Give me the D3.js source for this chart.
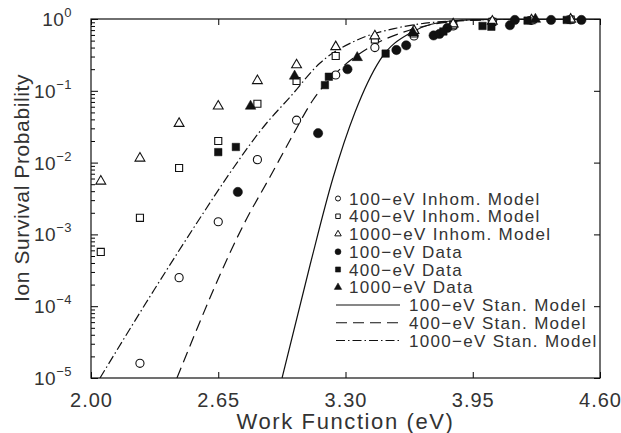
<!DOCTYPE html>
<html>
<head>
<meta charset="utf-8">
<script src="https://cdn.jsdelivr.net/npm/d3@7"></script>
<style>
  body { margin: 0; background: #fff; }
  text { font-family: "Liberation Sans", Arial, sans-serif; fill: #333; }
</style>
</head>
<body>
<svg id="chart"></svg>
<script>
var width = 621;
var height = 433;
var margins = { left: 91, right: 21, top: 19, bottom: 55 };

// inhomogeneous model points (0.2 eV grid)
var inhomX = [2.05, 2.25, 2.45, 2.65, 2.85, 3.05, 3.25, 3.45, 3.65, 3.85, 4.05, 4.25, 4.45];
var inhom100 = [null, 1.6e-5, 2.5e-4, 1.5e-3, 0.011, 0.039, 0.166, 0.40, 0.58, 0.80, 0.92, 0.96, 0.98];
var inhom400 = [5.7e-4, 0.0017, 0.0084, 0.020, 0.066, 0.137, 0.305, 0.52, 0.63, 0.82, 0.91, 0.96, 0.98];
var inhom1000 = [0.0055, 0.0115, 0.035, 0.061, 0.138, 0.229, 0.41, 0.58, 0.69, 0.85, 0.93, 0.97, 0.99];

// measured data
var data100X = [2.75, 3.16, 3.31, 3.56, 3.61, 3.75, 3.78, 3.82, 4.14, 4.165, 4.35, 4.505];
var data100Y = [0.0039, 0.0257, 0.20, 0.37, 0.43, 0.59, 0.62, 0.75, 0.82, 0.97, 0.97, 0.97];
var data400X = [2.65, 2.74, 3.195, 3.215, 3.505, 3.80, 4.00, 4.045, 4.23, 4.43];
var data400Y = [0.014, 0.0165, 0.12, 0.157, 0.33, 0.67, 0.80, 0.78, 0.95, 0.97];
var data1000X = [2.815, 3.04, 3.36, 3.645, 4.27];
var data1000Y = [0.061, 0.16, 0.29, 0.64, 0.99];

// standard model curves
var stan100X = [2.976, 3.119, 3.236, 3.349, 3.476, 3.640, 3.834, 4.038, 4.6];
var stan100Y = [1e-5, 3.75e-4, 6.1e-3, 0.0507, 0.268, 0.659, 0.938, 0.99, 1.0];
var stan400X = [2.439, 2.797, 2.914, 3.017, 3.134, 3.257, 3.425, 3.630, 3.885, 4.191, 4.6];
var stan400Y = [1e-5, 1.69e-3, 6.3e-3, 0.0206, 0.0744, 0.183, 0.407, 0.703, 0.938, 0.99, 1.0];
var stan1000X = [2.046, 2.322, 2.557, 2.710, 2.889, 3.017, 3.170, 3.359, 3.563, 3.834, 4.09, 4.6];
var stan1000Y = [1e-5, 1.68e-4, 1.69e-3, 7.2e-3, 0.0334, 0.082, 0.244, 0.51, 0.75, 0.938, 0.99, 1.0];

var xTicks = [2.00, 2.65, 3.30, 3.95, 4.60];
var yTicks = [1e-5, 1e-4, 1e-3, 1e-2, 1e-1, 1];
var yTickExp = ["\u22125", "\u22124", "\u22123", "\u22122", "\u22121", "0"];

var legendLabels = [
  "100\u2212eV Inhom. Model", "400\u2212eV Inhom. Model", "1000\u2212eV Inhom. Model",
  "100\u2212eV Data", "400\u2212eV Data", "1000\u2212eV Data",
  "100\u2212eV Stan. Model", "400\u2212eV Stan. Model", "1000\u2212eV Stan. Model"
];

var xscale = d3.scaleLinear()
                .domain([2.0, 4.6])
                .range([margins.left, width - margins.right]);
var yscale = d3.scaleLog()
                .domain([1e-5, 1])
                .range([height - margins.bottom, margins.top]);

var svg = d3.select("#chart")
            .attr("width", width)
            .attr("height", height);

var plotW = width - margins.left - margins.right;
var plotH = height - margins.top - margins.bottom;

svg.append("defs").append("clipPath").attr("id", "clip")
   .append("rect")
   .attr("x", margins.left).attr("y", margins.top)
   .attr("width", plotW).attr("height", plotH);

// minor log ticks on the left
var minorTicks = [];
for (var e = -5; e < 0; e++) {
  for (var m = 2; m <= 9; m++) minorTicks.push(m * Math.pow(10, e));
}
svg.append("g")
   .attr("transform", "translate(" + margins.left + ",0)")
   .call(d3.axisLeft(yscale).tickValues(minorTicks).tickSize(-4).tickFormat(""))
   .call(function(g){ g.select(".domain").remove(); });
svg.append("g")
   .attr("transform", "translate(" + margins.left + ",0)")
   .call(d3.axisLeft(yscale).tickValues(yTicks).tickSize(-7).tickFormat(""))
   .call(function(g){ g.select(".domain").remove(); });
svg.append("g")
   .attr("transform", "translate(" + (width - margins.right) + ",0)")
   .call(d3.axisRight(yscale).tickValues(yTicks).tickSize(-6).tickFormat(""))
   .call(function(g){ g.select(".domain").remove(); });

// x ticks, bottom and top, pointing inward
svg.append("g")
   .attr("transform", "translate(0," + (height - margins.bottom) + ")")
   .call(d3.axisBottom(xscale).tickValues(xTicks).tickSize(-6).tickPadding(15).tickFormat(d3.format(".2f")))
   .call(function(g){
     g.select(".domain").remove();
     g.selectAll("text").attr("font-size", 20).attr("font-family", null).attr("letter-spacing", 1).attr("fill", "#333");
   });
svg.append("g")
   .attr("transform", "translate(0," + margins.top + ")")
   .call(d3.axisTop(xscale).tickValues(xTicks).tickSize(-6).tickFormat(""))
   .call(function(g){ g.select(".domain").remove(); });

// y tick labels 10^n
var ylab = svg.append("g").selectAll("text").data(yTicks).enter().append("text")
   .attr("x", margins.left - 19)
   .attr("y", function(d){ return yscale(d) + 7; })
   .attr("text-anchor", "end")
   .attr("font-size", 19)
   .attr("letter-spacing", 0.5);
ylab.append("tspan").text("10");
ylab.append("tspan").attr("dy", -9).attr("font-size", 13).text(function(d, i){ return yTickExp[i]; });

// frame
svg.append("rect")
   .attr("x", margins.left).attr("y", margins.top)
   .attr("width", plotW).attr("height", plotH)
   .attr("fill", "none").attr("stroke", "#111").attr("stroke-width", 1.2);

// axis titles
svg.append("text")
   .attr("x", margins.left + plotW / 2)
   .attr("y", 429)
   .attr("text-anchor", "middle")
   .attr("font-size", 22)
   .attr("letter-spacing", 1.6)
   .text("Work Function (eV)");
svg.append("text")
   .attr("transform", "translate(29,188) rotate(-90)")
   .attr("text-anchor", "middle")
   .attr("font-size", 21)
   .attr("letter-spacing", 0.6)
   .text("Ion Survival Probability");

// curves
var line = d3.line()
   .x(function(d){ return xscale(d[0]); })
   .y(function(d){ return yscale(d[1]); })
   .curve(d3.curveMonotoneX);
var curves = [
  { xs: stan100X, ys: stan100Y, dash: null },
  { xs: stan400X, ys: stan400Y, dash: "11,6" },
  { xs: stan1000X, ys: stan1000Y, dash: "9,3,1.5,3" }
];
var gCurves = svg.append("g").attr("clip-path", "url(#clip)");
curves.forEach(function(c){
  gCurves.append("path")
     .datum(d3.zip(c.xs, c.ys))
     .attr("d", line)
     .attr("fill", "none")
     .attr("stroke", "#111")
     .attr("stroke-width", 1.2)
     .attr("stroke-dasharray", c.dash);
});

// markers
var symCircleO = d3.symbol().type(d3.symbolCircle).size(52);
var symSquareO = d3.symbol().type(d3.symbolSquare).size(50);
var symTriO = d3.symbol().type(d3.symbolTriangle).size(42);
var symCircleF = d3.symbol().type(d3.symbolCircle).size(68);
var symSquareF = d3.symbol().type(d3.symbolSquare).size(56);
var symTriF = d3.symbol().type(d3.symbolTriangle).size(48);

var series = [
  { xs: inhomX, ys: inhom100, sym: symCircleO, fill: false },
  { xs: inhomX, ys: inhom400, sym: symSquareO, fill: false },
  { xs: inhomX, ys: inhom1000, sym: symTriO, fill: false },
  { xs: data100X, ys: data100Y, sym: symCircleF, fill: true },
  { xs: data400X, ys: data400Y, sym: symSquareF, fill: true },
  { xs: data1000X, ys: data1000Y, sym: symTriF, fill: true }
];
series.forEach(function(s){
  var pts = d3.zip(s.xs, s.ys).filter(function(d){ return d[1] != null; });
  svg.append("g").selectAll("path").data(pts).enter().append("path")
     .attr("transform", function(d){ return "translate(" + xscale(d[0]) + "," + yscale(d[1]) + ")"; })
     .attr("d", s.sym)
     .attr("fill", s.fill ? "#111" : "#fff")
     .attr("stroke", "#111")
     .attr("stroke-width", s.fill ? 0.5 : 1.1);
});

// legend
var legX = 338, legY0 = 198.5, legDy = 17.75;
var legSyms = [
  d3.symbol().type(d3.symbolCircle).size(20),
  d3.symbol().type(d3.symbolSquare).size(20),
  d3.symbol().type(d3.symbolTriangle).size(18),
  d3.symbol().type(d3.symbolCircle).size(28),
  d3.symbol().type(d3.symbolSquare).size(26),
  d3.symbol().type(d3.symbolTriangle).size(24)
];
var leg = svg.append("g");
legendLabels.forEach(function(lbl, i){
  var yy = legY0 + i * legDy;
  var tx;
  if (i < 6) {
    leg.append("path")
       .attr("transform", "translate(" + legX + "," + yy + ")")
       .attr("d", legSyms[i])
       .attr("fill", i < 3 ? "#fff" : "#111")
       .attr("stroke", "#111")
       .attr("stroke-width", i < 3 ? 1 : 0.5);
    tx = legX + 11;
  } else {
    leg.append("line")
       .attr("x1", legX - 2).attr("x2", legX + 62)
       .attr("y1", yy).attr("y2", yy)
       .attr("stroke", "#111").attr("stroke-width", 1.1)
       .attr("stroke-dasharray", curves[i - 6].dash);
    tx = legX + 71;
  }
  leg.append("text")
     .attr("x", tx).attr("y", yy + 6)
     .attr("font-size", 17)
     .attr("letter-spacing", 1.3)
     .text(lbl);
});
</script>
</body>
</html>
